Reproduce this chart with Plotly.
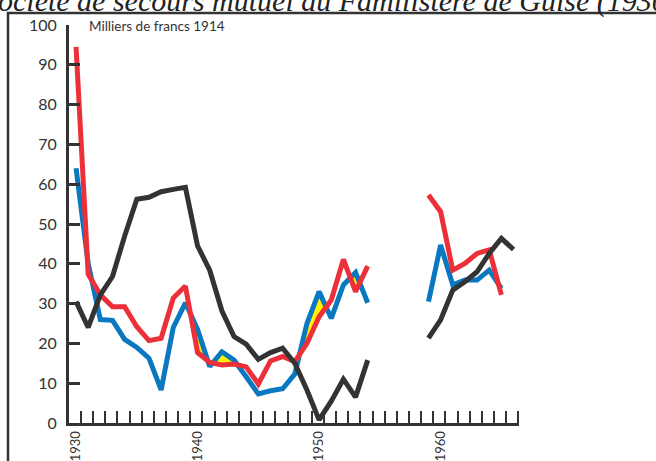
import plotly.graph_objects as go

# Years 1930-1966; None marks years with no record (1955-1958)
years = list(range(1930, 1967))

blue_values = [64.0, 40.0, 26.0, 25.8, 21.0, 19.0, 16.3, 8.3, 24.0, 30.2,
               23.5, 14.2, 17.9, 15.8, 11.6, 7.3, 8.1, 8.6, 12.3, 25.0,
               33.0, 26.3, 34.7, 37.8, 30.2, None, None, None, None, 30.5,
               44.7, 34.7, 35.9, 35.9, 38.4, 33.8, None]

red_values = [94.5, 37.4, 32.2, 29.2, 29.2, 24.2, 20.7, 21.3, 31.4, 34.4,
              17.7, 15.2, 14.6, 14.8, 14.1, 9.8, 15.6, 16.7, 15.4, 20.0,
              26.7, 30.9, 41.1, 33.0, 39.4, None, None, None, None, 57.3,
              53.1, 38.4, 40.1, 42.6, 43.5, 32.2, None]

black_values = [30.5, 24.0, 32.2, 36.8, 47.0, 56.2, 56.7, 58.1, 58.7, 59.2,
                44.5, 38.4, 28.2, 21.7, 19.8, 16.0, 17.7, 18.8, 15.0, 8.3,
                0.8, 5.5, 11.0, 6.5, 15.8, None, None, None, None, 21.3,
                25.9, 33.4, 35.5, 38.0, 42.6, 46.4, 43.6]

y_ticks = list(range(0, 101, 10))
year_labels = [1930, 1940, 1950, 1960]
unit_label = "Milliers de francs 1914"
title_text = "Société de secours mutuel au Familistère de Guise (1930-1965)"

BLUE = "#0A78C0"
RED = "#EC3039"
DARK = "#333333"
YELLOW = "#FFF200"


def excess_polygons(xs, upper, lower):
    """Closed outlines of the areas where `upper` lies above `lower`."""
    polys = []
    top, bottom = [], []

    def close():
        if len(top) >= 2:
            pts = top + bottom[::-1]
            polys.append(pts + [pts[0]])
        top.clear()
        bottom.clear()

    for i in range(len(xs) - 1):
        u0, u1, l0, l1 = upper[i], upper[i + 1], lower[i], lower[i + 1]
        if None in (u0, u1, l0, l1):
            close()
            continue
        d0, d1 = u0 - l0, u1 - l1
        x0, x1 = xs[i], xs[i + 1]
        if d0 > 0:
            if not top:
                top.append((x0, u0))
                bottom.append((x0, l0))
            if d1 > 0:
                top.append((x1, u1))
                bottom.append((x1, l1))
            else:
                t = d0 / (d0 - d1)
                xc = x0 + t * (x1 - x0)
                yc = u0 + t * (u1 - u0)
                top.append((xc, yc))
                bottom.append((xc, yc))
                close()
        elif d1 > 0:
            t = d0 / (d0 - d1)
            xc = x0 + t * (x1 - x0)
            yc = u0 + t * (u1 - u0)
            top.append((xc, yc))
            bottom.append((xc, yc))
            top.append((x1, u1))
            bottom.append((x1, l1))
    close()
    return polys


fig = go.Figure()

# yellow wedges where the blue series exceeds the red one
fx, fy = [], []
for poly in excess_polygons(years, blue_values, red_values):
    fx += [p[0] for p in poly] + [None]
    fy += [p[1] for p in poly] + [None]
fig.add_trace(go.Scatter(x=fx, y=fy, mode="lines", fill="toself",
                         fillcolor=YELLOW, line=dict(width=0),
                         hoverinfo="skip", showlegend=False))

for vals, col in [(blue_values, BLUE), (red_values, RED), (black_values, DARK)]:
    fig.add_trace(go.Scatter(x=years, y=vals, mode="lines",
                             line=dict(color=col, width=5),
                             connectgaps=False, showlegend=False))

L, R, T, B = 69, 137, 25, 38
W, H = 656, 461
pw, ph = W - L - R, H - T - B

def px_x(p):
    return (p - L) / pw

def px_y(p):
    return (H - B - p) / ph

fig.update_layout(
    width=W, height=H,
    margin=dict(l=L, r=R, t=T, b=B, pad=0, autoexpand=False),
    paper_bgcolor="white", plot_bgcolor="white",
    font=dict(family="Lato", color=DARK),
    xaxis=dict(
        range=[1929.42, 1966.45], automargin=False,
        tickvals=year_labels, ticktext=[str(y) for y in year_labels],
        tickangle=-90, ticks="", tickfont=dict(size=13, color=DARK),
        showgrid=False, zeroline=False,
        showline=True, linecolor=DARK, linewidth=3,
        minor=dict(ticks="inside", tick0=1930.4, dtick=1, ticklen=12,
                   tickwidth=2.2, tickcolor=DARK, showgrid=False),
    ),
    yaxis=dict(
        range=[0, 100], tickvals=y_ticks, automargin=False,
        ticks="inside", ticklen=11, tickwidth=2.5, tickcolor=DARK,
        tickfont=dict(size=16, color=DARK),
        showgrid=False, zeroline=False,
        showline=True, linecolor=DARK, linewidth=3,
        ticklabelstandoff=6,
    ),
    shapes=[dict(type="rect", xref="paper", yref="paper",
                 x0=px_x(8), x1=px_x(700), y0=px_y(520), y1=px_y(13),
                 line=dict(color=DARK, width=2.5), layer="below")],
    annotations=[
        dict(text=unit_label, xref="paper", yref="paper",
             x=px_x(87), y=px_y(26), xanchor="left", yanchor="middle",
             showarrow=False, font=dict(size=13.5, color=DARK)),
        dict(text="<i>" + title_text + "</i>", xref="paper", yref="paper",
             x=px_x(-19), y=px_y(20), xanchor="left", yanchor="bottom",
             showarrow=False,
             font=dict(family="Liberation Serif", size=30, color="#222222")),
    ],
)

fig.write_html("out.html")
